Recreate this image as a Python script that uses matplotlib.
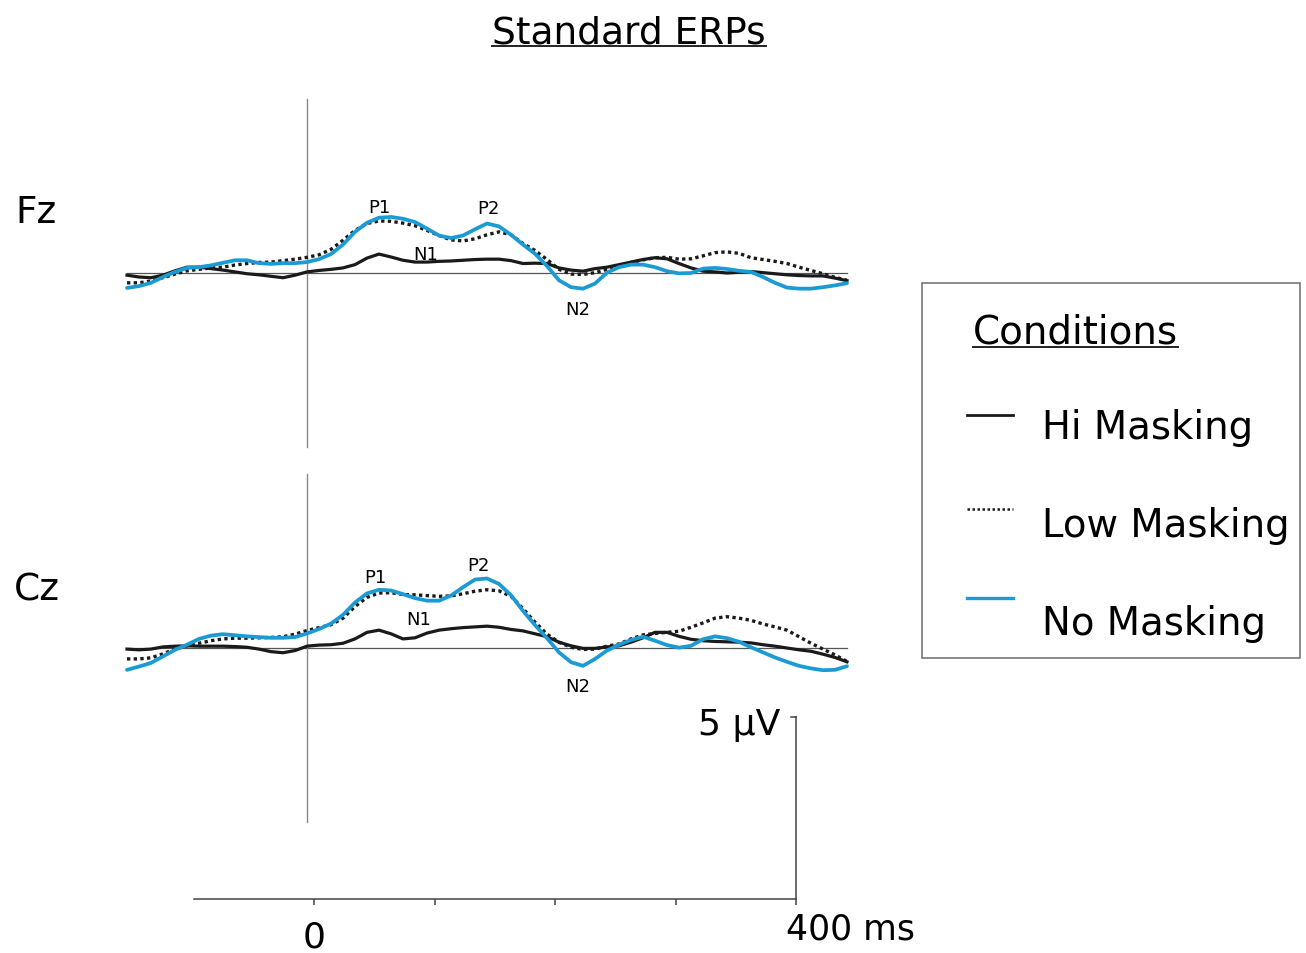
import numpy as np
import matplotlib
matplotlib.use('Agg')
import matplotlib.pyplot as plt
from matplotlib.lines import Line2D
from matplotlib.patches import Rectangle

plt.rcParams['font.family'] = ['DejaVu Sans']

# time base of the averaged epochs (ms)
t = np.arange(-150, 451, 10)

# Fz averages (µV)
fz_hi = [-0.06, -0.11, -0.13, -0.06, 0.06, 0.16, 0.16, 0.12, 0.08, 0.03, -0.02,
         -0.05, -0.09, -0.13, -0.06, 0.03, 0.07, 0.10, 0.14, 0.23, 0.41, 0.52,
         0.44, 0.35, 0.30, 0.30, 0.32, 0.33, 0.35, 0.37, 0.38, 0.38, 0.34,
         0.26, 0.27, 0.26, 0.14, 0.08, 0.05, 0.12, 0.16, 0.23, 0.30, 0.37, 0.42,
         0.39, 0.26, 0.14, 0.05, 0.03, 0.00, 0.02, 0.04, 0.01, -0.02, -0.05,
         -0.07, -0.08, -0.08, -0.14, -0.21]
fz_low = [-0.27, -0.27, -0.22, -0.13, -0.03, 0.06, 0.10, 0.14, 0.16, 0.22, 0.26,
          0.29, 0.30, 0.34, 0.38, 0.43, 0.50, 0.65, 0.90, 1.17, 1.36, 1.43,
          1.42, 1.37, 1.30, 1.17, 1.03, 0.91, 0.88, 0.94, 1.05, 1.13, 1.05,
          0.81, 0.62, 0.37, 0.10, -0.03, -0.04, 0.01, 0.10, 0.19, 0.29, 0.36,
          0.42, 0.43, 0.38, 0.39, 0.47, 0.56, 0.58, 0.54, 0.42, 0.37, 0.32,
          0.26, 0.16, 0.07, -0.02, -0.12, -0.20]
fz_no = [-0.41, -0.36, -0.27, -0.11, 0.03, 0.14, 0.16, 0.21, 0.28, 0.35, 0.35,
         0.27, 0.25, 0.27, 0.27, 0.30, 0.38, 0.52, 0.78, 1.13, 1.38, 1.52,
         1.54, 1.49, 1.40, 1.22, 1.03, 0.96, 1.03, 1.20, 1.36, 1.28, 1.05,
         0.78, 0.53, 0.19, -0.20, -0.39, -0.43, -0.29, 0.01, 0.16, 0.23, 0.23,
         0.16, 0.05, -0.01, 0.00, 0.12, 0.14, 0.11, 0.06, 0.03, -0.11, -0.27,
         -0.40, -0.43, -0.43, -0.39, -0.34, -0.28]

# Cz averages (µV)
cz_hi = [-0.03, -0.05, -0.03, 0.03, 0.05, 0.06, 0.05, 0.05, 0.05, 0.04, 0.02,
         -0.03, -0.10, -0.13, -0.07, 0.05, 0.08, 0.09, 0.13, 0.25, 0.43, 0.49,
         0.39, 0.25, 0.28, 0.41, 0.49, 0.53, 0.56, 0.58, 0.60, 0.57, 0.51,
         0.47, 0.39, 0.31, 0.16, 0.06, -0.01, -0.01, 0.03, 0.06, 0.16, 0.28,
         0.43, 0.43, 0.32, 0.24, 0.20, 0.18, 0.17, 0.16, 0.14, 0.09, 0.05, 0.00,
         -0.05, -0.09, -0.17, -0.26, -0.38]
cz_low = [-0.30, -0.30, -0.27, -0.16, -0.03, 0.06, 0.13, 0.20, 0.25, 0.27, 0.27,
          0.28, 0.29, 0.31, 0.38, 0.48, 0.56, 0.64, 0.82, 1.14, 1.39, 1.51,
          1.52, 1.47, 1.46, 1.44, 1.42, 1.43, 1.49, 1.56, 1.60, 1.57, 1.42,
          1.08, 0.71, 0.38, 0.16, 0.02, -0.04, -0.03, 0.05, 0.11, 0.25, 0.36,
          0.40, 0.43, 0.46, 0.57, 0.69, 0.82, 0.86, 0.82, 0.76, 0.66, 0.58,
          0.49, 0.31, 0.13, -0.03, -0.19, -0.37]
cz_no = [-0.60, -0.51, -0.41, -0.23, -0.05, 0.09, 0.25, 0.34, 0.38, 0.35, 0.32,
         0.30, 0.28, 0.28, 0.30, 0.40, 0.52, 0.67, 0.91, 1.25, 1.50, 1.60,
         1.58, 1.48, 1.37, 1.30, 1.30, 1.44, 1.67, 1.88, 1.91, 1.76, 1.45,
         1.02, 0.63, 0.27, -0.12, -0.39, -0.49, -0.30, -0.07, 0.09, 0.22, 0.31,
         0.20, 0.08, 0.01, 0.06, 0.24, 0.32, 0.27, 0.17, 0.02, -0.12, -0.26,
         -0.38, -0.49, -0.56, -0.61, -0.60, -0.50]

# component labels: (name, latency ms, height µV)
fz_peaks = [('P1', 60, 1.81), ('P2', 151, 1.79), ('N1', 99, 0.52), ('N2', 226, -0.99)]
cz_peaks = [('P1', 57, 1.95), ('P2', 143, 2.28), ('N1', 93, 0.80), ('N2', 226, -1.04)]

# calibration bar
bar_ms = [-100, 400]
bar_ticks = [0, 100, 200, 300, 400]
bar_uv = 5

conditions = ['Hi Masking', 'Low Masking', 'No Masking']
BLUE = '#1b9bd3'
INK = '#1a1a1a'

W, H = 1306, 954
fig = plt.figure(figsize=(W / 100, H / 100), dpi=100)


def box(x0, y0, x1, y1):
    return [x0 / W, 1 - y1 / H, (x1 - x0) / W, (y1 - y0) / H]


X0, PX_MS, PX_UV = 307, 1.2, 36.4


def panel(y_base, top, bottom, hi, low, no, peaks):
    ax = fig.add_axes(box(100, top, 870, bottom))
    ax.set_xlim((100 - X0) / PX_MS, (870 - X0) / PX_MS)
    ax.set_ylim((y_base - bottom) / PX_UV, (y_base - top) / PX_UV)
    ax.axis('off')
    ax.plot([t[0], t[-1]], [0, 0], color='#555555', lw=0.9)
    ax.plot([0, 0], [-4.78, 4.78], color='#888888', lw=1.0)
    ax.plot(t, hi, color=INK, lw=2.3, solid_joinstyle='round')
    ax.plot(t, low, color=INK, lw=2.4, linestyle=(0, (1, 1)), dash_capstyle='butt')
    ax.plot(t, no, color=BLUE, lw=2.7, solid_joinstyle='round', solid_capstyle='round')
    for name, ms, uv in peaks:
        ax.text(ms, uv, name, ha='center', va='center', fontsize=13)
    return ax


panel(274, 90, 460, fz_hi, fz_low, fz_no, fz_peaks)
panel(649, 465, 835, cz_hi, cz_low, cz_no, cz_peaks)

fig.text(36 / W, 1 - 213 / H, 'Fz', ha='center', va='center', fontsize=27)
fig.text(37 / W, 1 - 591 / H, 'Cz', ha='center', va='center', fontsize=27)

# time / voltage calibration
S0, SPX = 314, 1.205
sc = fig.add_axes(box(150, 690, 950, 954))
sc.set_xlim((150 - S0) / SPX, (950 - S0) / SPX)
sc.set_ylim((900 - 954) / PX_UV, (900 - 690) / PX_UV)
sc.axis('off')
sc.plot(bar_ms, [0, 0], color='#444444', lw=1.1)
sc.plot([bar_ms[1], bar_ms[1]], [0, bar_uv], color='#444444', lw=1.1)
sc.plot([bar_ms[1] - 4, bar_ms[1]], [bar_uv, bar_uv], color='#444444', lw=1.1)
sc.vlines(bar_ticks, -0.17, 0, color='#444444', lw=1.1)
sc.text(0, -1.02, '0', ha='center', va='center', fontsize=26)
sc.text(391.7, -0.82, '400 ms', ha='left', va='center', fontsize=25)
sc.text(386.7, 4.81, '5 µV', ha='right', va='center', fontsize=26)


def underline(txt, y_px):
    fig.canvas.draw()
    bb = txt.get_window_extent()
    y = 1 - y_px / H
    fig.add_artist(Line2D([bb.x0 / W, bb.x1 / W], [y, y], color='#222222', lw=1.4))


title = fig.text(629 / W, 1 - 43 / H, 'Standard ERPs', ha='center', va='baseline', fontsize=27)
underline(title, 47)

# legend box
fig.add_artist(Rectangle((922 / W, 1 - 659 / H), (1300 - 922) / W, (659 - 284) / H,
                         transform=fig.transFigure, fill=False, edgecolor='#777777', lw=1.2))
head = fig.text(973 / W, 1 - 343 / H, 'Conditions', va='baseline', fontsize=28)
underline(head, 348)

styles = [dict(color=INK, lw=2.0),
          dict(color=INK, lw=1.8, linestyle=(0, (1, 1))),
          dict(color=BLUE, lw=2.4)]
rows = [(416, 439), (510, 537), (599, 635)]
for name, st, (ly, ty) in zip(conditions, styles, rows):
    fig.add_artist(Line2D([967 / W, 1013 / W], [1 - ly / H] * 2, **st))
    fig.text(1042 / W, 1 - ty / H, name, va='baseline', fontsize=27.8)

fig.savefig('out.png', dpi=100)
